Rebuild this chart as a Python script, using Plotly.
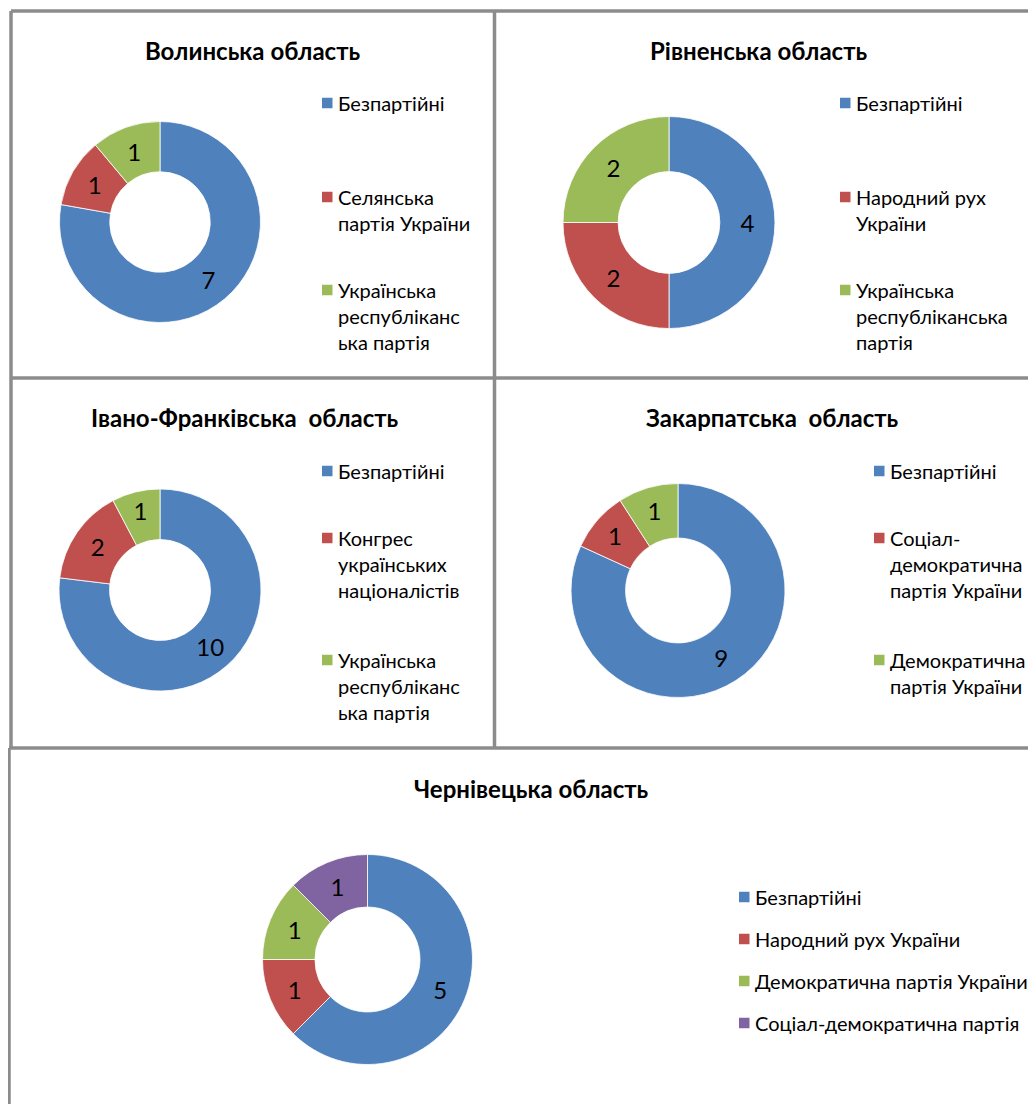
import plotly.graph_objects as go

OFF = 8  # page body margin in the browser
W, H = 1036 - OFF, 1104 - OFF

# ---- data ----
titles = ["Волинська область", "Рівненська область", "Івано-Франківська  область",
          "Закарпатська  область", "Чернівецька область"]

volyn_labels = ["Безпартійні", "Селянська<br>партія України", "Українська<br>республіканс<br>ька партія"]
volyn_values = [7, 1, 1]

rivne_labels = ["Безпартійні", "Народний рух<br>України", "Українська<br>республіканська<br>партія"]
rivne_values = [4, 2, 2]

if_labels = ["Безпартійні", "Конгрес<br>українських<br>націоналістів", "Українська<br>республіканс<br>ька партія"]
if_values = [10, 2, 1]

zak_labels = ["Безпартійні", "Соціал-<br>демократична<br>партія України", "Демократична<br>партія України"]
zak_values = [9, 1, 1]

cher_labels = ["Безпартійні", "Народний рух України", "Демократична партія України",
               "Соціал-демократична партія"]
cher_values = [5, 1, 1, 1]

colors = ["#4F81BD", "#C0504D", "#9BBB59", "#8064A2"]

# ---- layout (pixel geometry, in page pixels) ----
panels = [
    dict(labels=volyn_labels, values=volyn_values, c=(160, 222), r=100.5, hole=0.5,
         title=(252, 50), leg_x=322, leg_y=[103, 197, 290]),
    dict(labels=rivne_labels, values=rivne_values, c=(669, 222.5), r=106, hole=0.48,
         title=(758, 50), leg_x=840, leg_y=[103, 197, 290]),
    dict(labels=if_labels, values=if_values, c=(160, 590), r=101, hole=0.5,
         title=(245, 417), leg_x=322, leg_y=[471, 538, 660]),
    dict(labels=zak_labels, values=zak_values, c=(678, 590.5), r=107, hole=0.49,
         title=(772, 417), leg_x=874, leg_y=[471, 538, 660]),
    dict(labels=cher_labels, values=cher_values, c=(367.5, 959.5), r=105, hole=0.5,
         title=(531, 788), leg_x=739, leg_y=[897, 939, 981, 1023]),
]

FONT = "Lato, 'Open Sans', sans-serif"
LINE = 26

fig = go.Figure()
annotations = []
shapes = []

def px(x):
    return (x - OFF) / W

def py(y):
    return (H - (y - OFF)) / H

for k, p in enumerate(panels):
    cx, cy = p["c"]
    r = p["r"]
    fig.add_trace(go.Pie(
        labels=[l.replace("<br>", " ") for l in p["labels"]],
        values=p["values"],
        hole=p["hole"],
        sort=False,
        direction="clockwise",
        rotation=0,
        marker=dict(colors=colors[:len(p["values"])], line=dict(color="white", width=0.8)),
        textinfo="value",
        textposition="inside",
        insidetextorientation="horizontal",
        textfont=dict(family=FONT, size=24, color="black"),
        domain=dict(x=[px(cx - r), px(cx + r)], y=[py(cy + r), py(cy - r)]),
        showlegend=False,
        hoverinfo="label+value+percent",
    ))
    tx, ty = p["title"]
    annotations.append(dict(
        x=px(tx), y=py(ty), xref="paper", yref="paper", xanchor="center", yanchor="middle",
        text="<b>" + titles[k] + "</b>", showarrow=False,
        font=dict(family=FONT, size=24, color="black"),
    ))
    for i, lab in enumerate(p["labels"]):
        y0 = p["leg_y"][i]
        shapes.append(dict(
            type="rect", xref="paper", yref="paper",
            x0=px(p["leg_x"]), x1=px(p["leg_x"] + 10.5),
            y0=py(y0 + 5.25), y1=py(y0 - 5.25),
            fillcolor=colors[i], line=dict(width=0),
        ))
        for j, line in enumerate(lab.split("<br>")):
            annotations.append(dict(
                x=px(p["leg_x"] + 14), y=py(y0 + j * LINE), xref="paper", yref="paper",
                xanchor="left", yanchor="middle", text=line, showarrow=False,
                font=dict(family=FONT, size=20, color="#000000"),
            ))

# ---- panel border lines ----
border = dict(color="#8C8C8C", width=3.5)
lines = [
    (11, 11, 1050, 11),     # top
    (11, 11, 11, 378),      # left top panels
    (11, 378, 11, 748),
    (9, 748, 9, 1120),      # left bottom panel
    (494.5, 11, 494.5, 748),  # vertical divider
    (11, 378, 1050, 378),   # horizontal divider 1
    (9, 748, 1050, 748),    # horizontal divider 2
]
for x0, y0, x1, y1 in lines:
    shapes.append(dict(type="line", xref="paper", yref="paper",
                       x0=px(x0), y0=py(y0), x1=px(x1), y1=py(y1), line=border))

fig.update_layout(
    width=W, height=H,
    margin=dict(l=0, r=0, t=0, b=0),
    paper_bgcolor="white",
    plot_bgcolor="white",
    annotations=annotations,
    shapes=shapes,
    showlegend=False,
)

fig.write_html("out.html")
